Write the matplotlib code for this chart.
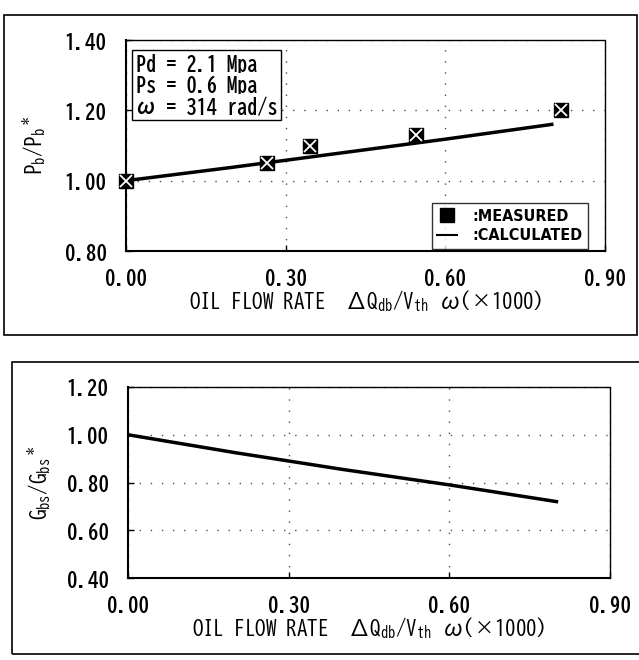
import matplotlib
matplotlib.use("Agg")
import matplotlib.pyplot as plt
from matplotlib.patches import Rectangle
from matplotlib.lines import Line2D

plt.rcParams['font.family'] = ['BIZ UDGothic', 'DejaVu Sans']
plt.rcParams['font.weight'] = 'bold'
plt.rcParams['mathtext.default'] = 'regular'

# ---- data ----
meas_x = [0.0, 0.265, 0.345, 0.545, 0.818]
meas_pb = [1.00, 1.05, 1.10, 1.13, 1.20]

calc_x = [0.0, 0.2, 0.4, 0.6, 0.8]
calc_pb = [1.00, 1.038, 1.078, 1.118, 1.160]
calc_gb = [1.00, 0.925, 0.855, 0.790, 0.720]

xticks = [0.0, 0.3, 0.6, 0.9]
top_yticks = [0.8, 1.0, 1.2, 1.4]
bot_yticks = [0.4, 0.6, 0.8, 1.0, 1.2]

def lab(v):
    return "%.2f" % v

fig = plt.figure(figsize=(6.39, 6.60), dpi=100)

# outer frames
fig.patches.append(Rectangle((4 / 639, 1 - 335 / 660), 633 / 639, 320 / 660,
                             transform=fig.transFigure, fill=False, lw=1.2, ec="k"))
fig.patches.append(Rectangle((12 / 639, 1 - 654 / 660), 640 / 639, 292 / 660,
                             transform=fig.transFigure, fill=False, lw=1.2, ec="k"))

ax1 = fig.add_axes([126 / 639, 1 - 251 / 660, 479 / 639, 211 / 660])
ax2 = fig.add_axes([128 / 639, 1 - 578 / 660, 482 / 639, 191 / 660])

for ax in (ax1, ax2):
    ax.set_xlim(0, 0.9)
    ax.set_xticks(xticks)
    ax.set_xticklabels([lab(v) for v in xticks])
    ax.tick_params(direction="in", length=4, labelsize=15, width=1)
    ax.tick_params(axis="x", pad=12)
    ax.tick_params(axis="y", pad=14)
    ax.spines["left"].set_linewidth(1.5)
    ax.spines["bottom"].set_linewidth(1.5)
    for s in ("top", "right"):
        ax.spines[s].set_linestyle((0, (2, 1)))
        ax.spines[s].set_linewidth(1.0)
    ax.grid(True, linestyle=(0, (1, 7)), color="k", lw=1.0, alpha=0.7)
    ax.set_xlabel("OIL FLOW RATE  ΔQ$_{db}$/V$_{th}$ ω(×1000)", fontsize=15, labelpad=1)

# top chart
ax1.set_ylim(0.8, 1.4)
ax1.set_yticks(top_yticks)
ax1.set_yticklabels([lab(v) for v in top_yticks])
ax1.plot(calc_x, calc_pb, color="k", lw=2.5, zorder=3)
ax1.plot(meas_x, meas_pb, ls="none", marker="s", ms=10, mfc="k", mec="k", zorder=4, clip_on=False)
ax1.plot(meas_x, meas_pb, ls="none", marker="x", ms=8, mew=1.3, color="w", zorder=5, clip_on=False)
ax1.set_ylabel("P$_b$/P$_b$$^*$", fontsize=15, labelpad=12)

ax1.text(0.02, 0.935, "Pd = 2.1 Mpa\nPs = 0.6 Mpa\nω = 314 rad/s", transform=ax1.transAxes,
         fontsize=14.5, va="top", ha="left", linespacing=1.15,
         bbox=dict(boxstyle="square,pad=0.2", fc="w", ec="k", lw=1.0))

handles = [Line2D([], [], ls="none", marker="s", ms=10, color="k"),
           Line2D([], [], color="k", lw=1.5)]
leg = ax1.legend(handles, [":MEASURED", ":CALCULATED"], loc="lower right",
                 prop=dict(family="DejaVu Sans", stretch="condensed", weight="bold", size=11.5),
                 frameon=True, fancybox=False, edgecolor="k", borderaxespad=0.0,
                 handlelength=1.2, handletextpad=1.0, borderpad=0.35, labelspacing=0.3,
                 bbox_to_anchor=(0.965, 0.01))
leg.get_frame().set_linewidth(1.0)

# bottom chart
ax2.set_ylim(0.4, 1.2)
ax2.set_yticks(bot_yticks)
ax2.set_yticklabels([lab(v) for v in bot_yticks])
ax2.plot(calc_x, calc_gb, color="k", lw=2.5, zorder=3)
ax2.set_ylabel("G$_{bs}$/G$_{bs}$$^*$", fontsize=15, labelpad=10)

fig.savefig("out.png", dpi=100)
